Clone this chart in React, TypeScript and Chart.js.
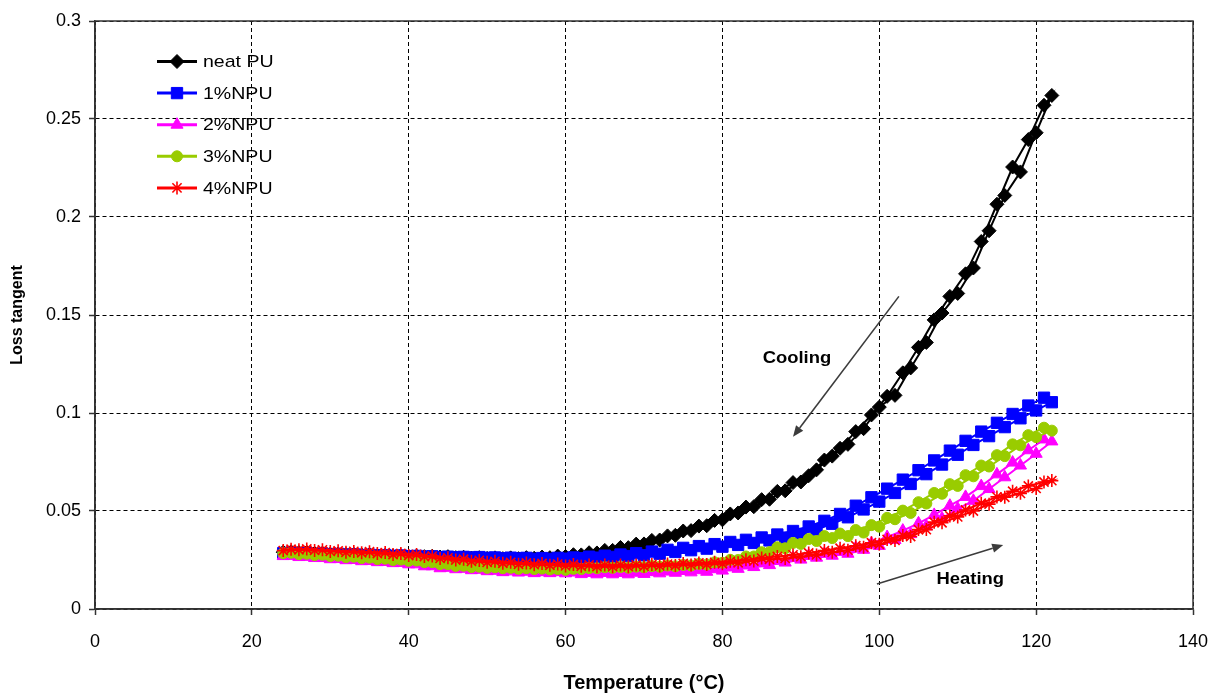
import React, { useEffect, useRef } from 'react';
import { Chart, registerables } from 'chart.js';
import { drawPoint } from 'chart.js/helpers';

Chart.register(...registerables);

const FONT = "'Liberation Sans', Arial, Helvetica, sans-serif";

// ---------- axes ----------
const X_TICKS = [0, 20, 40, 60, 80, 100, 120, 140];
const X_TICK_LABELS = ['0', '20', '40', '60', '80', '100', '120', '140'];
const Y_TICKS = [0, 0.05, 0.1, 0.15, 0.2, 0.25, 0.3];
const Y_TICK_LABELS = ['0', '0.05', '0.1', '0.15', '0.2', '0.25', '0.3'];
const X_TITLE = 'Temperature (°C)';
const Y_TITLE = 'Loss tangent';

// ---------- series ----------
const SERIES_LABELS = ['neat PU', '1%NPU', '2%NPU', '3%NPU', '4%NPU'];

// heating branch temperatures (°C)
const HEAT_TEMPS = [
  24, 26, 28, 30, 32, 34, 36, 38, 40, 42,
  44, 46, 48, 50, 52, 54, 56, 58, 60, 62,
  64, 66, 68, 70, 72, 74, 76, 78, 80, 82,
  84, 86, 88, 90, 92, 94, 96, 98, 100, 102,
  104, 106, 108, 110, 112, 114, 116, 118, 120, 122,
];
// cooling branch temperatures (°C), listed ascending; plotted from hot to cold
const COOL_TEMPS = [
  25, 27, 29, 31, 33, 35, 37, 39, 41, 43,
  45, 47, 49, 51, 53, 55, 57, 59, 61, 63,
  65, 67, 69, 71, 73, 75, 77, 79, 81, 83,
  85, 87, 89, 91, 93, 95, 97, 99, 101, 103,
  105, 107, 109, 111, 113, 115, 117, 119, 121,
];

const NEAT_HEAT = [
  0.029, 0.0288, 0.0284, 0.028, 0.0278, 0.0276, 0.0273, 0.027, 0.0268, 0.0267,
  0.0265, 0.0262, 0.026, 0.0258, 0.0257, 0.0257, 0.0259, 0.0262, 0.0268, 0.0276,
  0.0286, 0.0299, 0.0313, 0.0332, 0.0352, 0.0376, 0.04, 0.0425, 0.0455, 0.049,
  0.0522, 0.056, 0.0603, 0.0648, 0.071, 0.078, 0.084, 0.092, 0.103, 0.109,
  0.123, 0.136, 0.151, 0.161, 0.174, 0.193, 0.211, 0.223, 0.243, 0.262,
];
const NEAT_COOL = [
  0.0292, 0.0289, 0.0285, 0.0281, 0.0279, 0.0277, 0.0274, 0.0272, 0.027, 0.0269,
  0.0267, 0.0264, 0.0262, 0.0261, 0.0261, 0.0262, 0.0265, 0.027, 0.0277, 0.0287,
  0.0299, 0.0314, 0.0331, 0.035, 0.0373, 0.0398, 0.0423, 0.0452, 0.0485, 0.052,
  0.0558, 0.06, 0.0645, 0.068, 0.076, 0.082, 0.0905, 0.099, 0.1085, 0.1205,
  0.1335, 0.1475, 0.1595, 0.171, 0.1875, 0.2065, 0.2255, 0.2395, 0.257,
];

const NPU1_HEAT = [
  0.0285, 0.0284, 0.028, 0.0279, 0.0277, 0.0275, 0.0273, 0.0271, 0.0269, 0.0267,
  0.0265, 0.0264, 0.0263, 0.0261, 0.0259, 0.0258, 0.0256, 0.0256, 0.0257, 0.0259,
  0.0262, 0.0266, 0.027, 0.0274, 0.0282, 0.0291, 0.03, 0.0308, 0.0318, 0.0327,
  0.0337, 0.035, 0.0364, 0.0383, 0.0405, 0.0435, 0.0468, 0.0508, 0.0548, 0.0592,
  0.0638, 0.0688, 0.0737, 0.0787, 0.0837, 0.0882, 0.0928, 0.0973, 0.1013, 0.1055,
];
const NPU1_COOL = [
  0.0287, 0.0285, 0.0283, 0.0281, 0.0279, 0.0277, 0.0275, 0.0273, 0.0271, 0.0269,
  0.0267, 0.0266, 0.0265, 0.0263, 0.0262, 0.0261, 0.026, 0.0261, 0.0263, 0.0267,
  0.0272, 0.0278, 0.0285, 0.0293, 0.0302, 0.0312, 0.0321, 0.0331, 0.0342, 0.0353,
  0.0365, 0.038, 0.0398, 0.0421, 0.045, 0.0485, 0.0527, 0.057, 0.0614, 0.066,
  0.0708, 0.0758, 0.0808, 0.0858, 0.0905, 0.095, 0.0995, 0.1038, 0.1078,
];

const NPU2_HEAT = [
  0.027, 0.0265, 0.026, 0.0254, 0.0249, 0.0244, 0.0239, 0.0234, 0.0228, 0.0218,
  0.0208, 0.0203, 0.0198, 0.0193, 0.0188, 0.0186, 0.0183, 0.0183, 0.0182, 0.0178,
  0.0177, 0.0177, 0.0177, 0.0179, 0.0182, 0.0185, 0.0187, 0.019, 0.0196, 0.0205,
  0.0214, 0.0224, 0.0237, 0.0252, 0.0262, 0.0272, 0.0282, 0.0302, 0.0322, 0.0352,
  0.0382, 0.0422, 0.0462, 0.0512, 0.0552, 0.0612, 0.0672, 0.0732, 0.0792, 0.0855,
];
const NPU2_COOL = [
  0.0271, 0.0266, 0.026, 0.0255, 0.025, 0.0245, 0.024, 0.0235, 0.0228, 0.0218,
  0.021, 0.0205, 0.02, 0.0195, 0.0192, 0.019, 0.0188, 0.0188, 0.0186, 0.0184,
  0.0184, 0.0184, 0.0185, 0.0188, 0.0191, 0.0194, 0.0198, 0.0203, 0.0212, 0.0222,
  0.0233, 0.0246, 0.026, 0.0272, 0.0282, 0.0292, 0.0312, 0.0335, 0.0367, 0.04,
  0.0437, 0.048, 0.0527, 0.0572, 0.0627, 0.0687, 0.0747, 0.081, 0.0865,
];

const NPU3_HEAT = [
  0.0285, 0.028, 0.0275, 0.027, 0.0265, 0.026, 0.0255, 0.025, 0.0246, 0.0239,
  0.0229, 0.022, 0.0214, 0.021, 0.0208, 0.0205, 0.0204, 0.0202, 0.02, 0.0204,
  0.0208, 0.021, 0.0211, 0.0213, 0.0216, 0.0218, 0.0222, 0.0227, 0.0236, 0.025,
  0.0268, 0.029, 0.031, 0.0332, 0.0347, 0.0362, 0.0372, 0.039, 0.042, 0.0458,
  0.049, 0.0538, 0.0588, 0.0628, 0.0677, 0.0727, 0.078, 0.0835, 0.0877, 0.091,
];
const NPU3_COOL = [
  0.0287, 0.0282, 0.0277, 0.0272, 0.0267, 0.0262, 0.0257, 0.0252, 0.0247, 0.0239,
  0.0229, 0.0221, 0.0216, 0.0213, 0.021, 0.0208, 0.0206, 0.0204, 0.0205, 0.0209,
  0.0213, 0.0214, 0.0216, 0.0219, 0.0222, 0.0225, 0.023, 0.0238, 0.0251, 0.0268,
  0.029, 0.0315, 0.0337, 0.0357, 0.0372, 0.0385, 0.0403, 0.0428, 0.0465, 0.0502,
  0.0545, 0.0592, 0.0637, 0.0683, 0.0732, 0.0785, 0.084, 0.0887, 0.0925,
];

const NPU4_HEAT = [
  0.0298, 0.0302, 0.0299, 0.0294, 0.0289, 0.0287, 0.0283, 0.0278, 0.0273, 0.0268,
  0.0258, 0.025, 0.0243, 0.0238, 0.0233, 0.0228, 0.0226, 0.0223, 0.022, 0.0218,
  0.0216, 0.0216, 0.0216, 0.0218, 0.022, 0.0222, 0.0225, 0.0227, 0.0231, 0.0236,
  0.0245, 0.0254, 0.0258, 0.0267, 0.0276, 0.029, 0.03, 0.0315, 0.033, 0.035,
  0.037, 0.0405, 0.044, 0.047, 0.05, 0.0535, 0.057, 0.059, 0.0615, 0.0655,
];
const NPU4_COOL = [
  0.0305, 0.0306, 0.0302, 0.0297, 0.0294, 0.0292, 0.0288, 0.0283, 0.0278, 0.027,
  0.0261, 0.0254, 0.0248, 0.0243, 0.0238, 0.0235, 0.0232, 0.0229, 0.0227, 0.0225,
  0.0224, 0.0224, 0.0225, 0.0227, 0.0229, 0.0232, 0.0235, 0.0238, 0.0243, 0.0251,
  0.026, 0.0268, 0.0276, 0.0286, 0.0298, 0.031, 0.0323, 0.0338, 0.0355, 0.0375,
  0.0405, 0.0443, 0.0475, 0.0505, 0.054, 0.0572, 0.0601, 0.0628, 0.0648,
];

const HEATING = [NEAT_HEAT, NPU1_HEAT, NPU2_HEAT, NPU3_HEAT, NPU4_HEAT];
const COOLING = [NEAT_COOL, NPU1_COOL, NPU2_COOL, NPU3_COOL, NPU4_COOL];

// ---------- styles ----------
const SERIES_COLORS = ['#000000', '#0000FF', '#FF00FF', '#99CC00', '#FF0000'];
const SERIES_MARKERS = ['rectRot', 'rect', 'triangle', 'circle', 'star'];
const MARKER_RADII = [7, 8, 7, 5.5, 6.5];
const MARKER_BORDERS = [1, 1, 1, 1, 1.6];
const LEGEND_RADII = [7, 8, 7, 5.5, 6.5];

// ---------- annotations (data coordinates) ----------
const ANNOTATION_TEXTS = ['Cooling', 'Heating'];
const ANNOTATION_TEXT_AT = [[89.5, 0.1278], [111.6, 0.0148]];
const ARROW_FROM = [[102.5, 0.1595], [99.7, 0.0128]];
const ARROW_TO = [[89.0, 0.0879], [115.8, 0.0327]];

function buildPoints(heat: number[], cool: number[]) {
  const pts: { x: number; y: number }[] = HEAT_TEMPS.map((t, i) => ({ x: t, y: heat[i] }));
  for (let i = COOL_TEMPS.length - 1; i >= 0; i--) pts.push({ x: COOL_TEMPS[i], y: cool[i] });
  return pts;
}

const framePlugin = {
  id: 'frame',
  afterDraw(chart: any) {
    const { ctx, chartArea: a } = chart;
    ctx.save();
    ctx.strokeStyle = '#333333';
    ctx.lineWidth = 1.5;
    ctx.strokeRect(a.left, a.top, a.right - a.left, a.bottom - a.top);
    ctx.restore();
  },
};

const legendPlugin = {
  id: 'insideLegend',
  afterDraw(chart: any) {
    const { ctx, chartArea: a } = chart;
    ctx.save();
    SERIES_LABELS.forEach((label, i) => {
      const y = a.top + 40.5 + i * 31.6;
      const x0 = a.left + 62;
      const x1 = a.left + 102;
      ctx.strokeStyle = SERIES_COLORS[i];
      ctx.lineWidth = 3;
      ctx.setLineDash([]);
      ctx.beginPath();
      ctx.moveTo(x0, y);
      ctx.lineTo(x1, y);
      ctx.stroke();
      ctx.fillStyle = SERIES_COLORS[i];
      ctx.strokeStyle = SERIES_COLORS[i];
      ctx.lineWidth = MARKER_BORDERS[i];
      drawPoint(ctx, {
        pointStyle: SERIES_MARKERS[i],
        radius: LEGEND_RADII[i],
        rotation: 0,
        borderWidth: MARKER_BORDERS[i],
      } as any, (x0 + x1) / 2, y);
      ctx.save();
      ctx.font = `17px ${FONT}`;
      ctx.fillStyle = '#000000';
      ctx.textAlign = 'left';
      ctx.textBaseline = 'middle';
      ctx.translate(a.left + 108, y + 1);
      ctx.scale(1.15, 1);
      ctx.fillText(label, 0, 0);
      ctx.restore();
    });
    ctx.restore();
  },
};

const annotationPlugin = {
  id: 'arrows',
  afterDraw(chart: any) {
    const { ctx } = chart;
    const xs = chart.scales.x;
    const ys = chart.scales.y;
    ctx.save();
    ARROW_FROM.forEach((from, i) => {
      const fx = xs.getPixelForValue(from[0]);
      const fy = ys.getPixelForValue(from[1]);
      const tx = xs.getPixelForValue(ARROW_TO[i][0]);
      const ty = ys.getPixelForValue(ARROW_TO[i][1]);
      const ang = Math.atan2(ty - fy, tx - fx);
      const head = 11;
      const half = 4.5;
      const bx = tx - head * Math.cos(ang);
      const by = ty - head * Math.sin(ang);
      ctx.strokeStyle = '#3c3c3c';
      ctx.fillStyle = '#3c3c3c';
      ctx.lineWidth = 1.6;
      ctx.beginPath();
      ctx.moveTo(fx, fy);
      ctx.lineTo(bx, by);
      ctx.stroke();
      ctx.beginPath();
      ctx.moveTo(tx, ty);
      ctx.lineTo(bx + half * Math.sin(ang), by - half * Math.cos(ang));
      ctx.lineTo(bx - half * Math.sin(ang), by + half * Math.cos(ang));
      ctx.closePath();
      ctx.fill();
    });
    ANNOTATION_TEXTS.forEach((txt, i) => {
      const px = xs.getPixelForValue(ANNOTATION_TEXT_AT[i][0]);
      const py = ys.getPixelForValue(ANNOTATION_TEXT_AT[i][1]);
      ctx.save();
      ctx.font = `bold 16px ${FONT}`;
      ctx.fillStyle = '#000000';
      ctx.textAlign = 'center';
      ctx.textBaseline = 'middle';
      ctx.translate(px, py);
      ctx.scale(1.15, 1);
      ctx.fillText(txt, 0, 0);
      ctx.restore();
    });
    ctx.restore();
  },
};

export default function App() {
  const canvasRef = useRef<HTMLCanvasElement | null>(null);

  useEffect(() => {
    if (!canvasRef.current) return;
    const datasets = SERIES_LABELS.map((label, i) => ({
      label,
      data: buildPoints(HEATING[i], COOLING[i]),
      borderColor: SERIES_COLORS[i],
      backgroundColor: SERIES_COLORS[i],
      borderWidth: 2,
      pointStyle: SERIES_MARKERS[i],
      pointRadius: MARKER_RADII[i],
      pointBackgroundColor: SERIES_COLORS[i],
      pointBorderColor: SERIES_COLORS[i],
      pointBorderWidth: MARKER_BORDERS[i],
      tension: 0,
      fill: false,
      order: SERIES_LABELS.length - i,
    }));

    const tickFont = { family: FONT, size: 18 };

    const chart = new Chart(canvasRef.current, {
      type: 'line',
      data: { datasets } as any,
      options: {
        animation: false,
        responsive: true,
        maintainAspectRatio: false,
        devicePixelRatio: 1,
        layout: { padding: { top: 21, right: 32, left: 0, bottom: 0 } },
        plugins: {
          legend: { display: false },
          tooltip: { enabled: false },
          title: { display: false },
        },
        scales: {
          x: {
            type: 'linear',
            min: X_TICKS[0],
            max: X_TICKS[X_TICKS.length - 1],
            afterBuildTicks: (scale: any) => {
              scale.ticks = X_TICKS.map((v) => ({ value: v }));
            },
            afterFit: (scale: any) => {
              scale.height = 87;
            },
            ticks: {
              color: '#000000',
              font: tickFont,
              padding: 16,
              maxRotation: 0,
              autoSkip: false,
              callback: (v: any) => X_TICK_LABELS[X_TICKS.indexOf(Number(v))] ?? '',
            },
            grid: {
              color: '#000000',
              lineWidth: 1,
              tickLength: 6,
              tickColor: '#333333',
              tickWidth: 1.5,
            },
            border: { display: true, color: '#333333', width: 1.5, dash: [4, 3] },
            title: {
              display: true,
              text: X_TITLE,
              color: '#000000',
              font: { family: FONT, size: 20, weight: 'bold', lineHeight: 1.2 },
              padding: { top: 0, bottom: 1 },
            },
          },
          y: {
            type: 'linear',
            min: Y_TICKS[0],
            max: Y_TICKS[Y_TICKS.length - 1],
            afterBuildTicks: (scale: any) => {
              scale.ticks = Y_TICKS.map((v) => ({ value: v }));
            },
            afterFit: (scale: any) => {
              scale.width = 95;
            },
            ticks: {
              color: '#000000',
              font: tickFont,
              padding: 8,
              autoSkip: false,
              callback: (v: any) => {
                const idx = Y_TICKS.findIndex((t) => Math.abs(t - Number(v)) < 1e-9);
                return idx >= 0 ? Y_TICK_LABELS[idx] : '';
              },
            },
            grid: {
              color: '#000000',
              lineWidth: 1,
              tickLength: 6,
              tickColor: '#333333',
              tickWidth: 1.5,
            },
            border: { display: true, color: '#333333', width: 1.5, dash: [4, 3] },
            title: {
              display: true,
              text: Y_TITLE,
              color: '#000000',
              font: { family: FONT, size: 16, weight: 'bold', lineHeight: 1.2 },
              padding: { top: 8, bottom: 0 },
            },
          },
        },
      } as any,
      plugins: [framePlugin, annotationPlugin, legendPlugin],
    });
    return () => chart.destroy();
  }, []);

  return (
    <div style={{ position: 'fixed', left: 0, top: 0, width: 1225, height: 696, background: '#ffffff' }}>
      <canvas ref={canvasRef} />
    </div>
  );
}
